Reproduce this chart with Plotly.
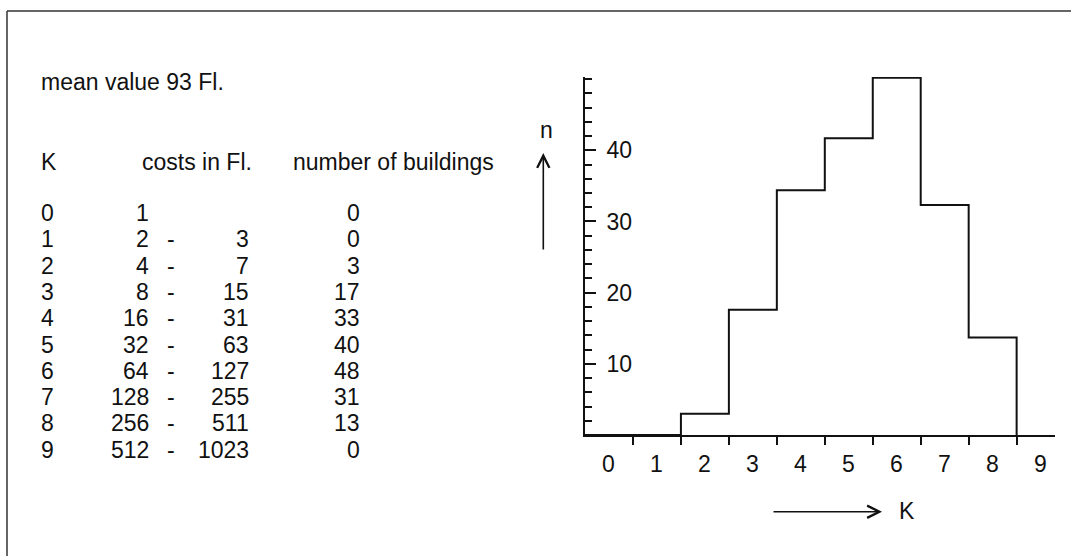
import plotly.graph_objects as go

# ---- data ----
K = list(range(10))
cost_low = [1, 2, 4, 8, 16, 32, 64, 128, 256, 512]
cost_high = [None, 3, 7, 15, 31, 63, 127, 255, 511, 1023]
buildings = [0, 0, 3, 17, 33, 40, 48, 31, 13, 0]
# step heights as drawn in the histogram
bar_heights = [0, 0, 3, 17.6, 34.4, 41.7, 50.2, 32.3, 13.7, 0]
x_tick_labels = [str(k) for k in K]
y_tick_vals = [10, 20, 30, 40]
mean_text = "mean value 93 Fl."

# ---- layout geometry (pixels) ----
W, H = 1071, 556
L, R, T, B = 585, 1055, 77, 435
FONT = "Liberation Sans, Arial, Helvetica, sans-serif"
FS = 23
INK = "#111111"


def px(x):
    return (x - L) / (R - L)


def py(y):
    return (B - y) / (B - T)


fig = go.Figure()
fig.add_trace(go.Scatter(
    x=K, y=bar_heights, mode="lines",
    line=dict(shape="hv", color=INK, width=2),
    hoverinfo="skip", showlegend=False, cliponaxis=False,
))

ann = []


def text(x, y, s, anchor="left"):
    ann.append(dict(x=px(x), y=py(y), xref="paper", yref="paper", text=s,
                    showarrow=False, xanchor=anchor, yanchor="middle",
                    font=dict(family=FONT, size=FS, color=INK)))


text(39, 82, mean_text)
text(39, 162, "K")
text(140, 162, "costs in Fl.")
text(291, 162, "number of buildings")
row0, dy = 213, 26.3
for i, k in enumerate(K):
    y = row0 + dy * i
    text(39, y, str(k))
    text(151, y, str(cost_low[i]), "right")
    if cost_high[i] is not None:
        text(171, y, "-", "center")
        text(251, y, str(cost_high[i]), "right")
    text(362, y, str(buildings[i]), "right")

# x tick labels centred under each class (placed on the x scale)
for k, lab in zip(K, x_tick_labels):
    ann.append(dict(x=k + 0.5, y=py(464), xref="x", yref="paper", text=lab,
                    showarrow=False, xanchor="center", yanchor="middle",
                    font=dict(family=FONT, size=FS, color=INK)))

# axis name labels and arrows
text(546.7, 130, "n", "center")
text(906.7, 511, "K", "center")
ann.append(dict(x=px(543.3), y=py(153), xref="paper", yref="paper",
                ax=0, ay=98, axref="pixel", ayref="pixel", text="",
                showarrow=True, arrowhead=5, arrowsize=1.5, arrowwidth=1.6,
                arrowcolor=INK, standoff=0))
ann.append(dict(x=px(882), y=py(511.7), xref="paper", yref="paper",
                ax=-110, ay=0, axref="pixel", ayref="pixel", text="",
                showarrow=True, arrowhead=5, arrowsize=1.5, arrowwidth=1.6,
                arrowcolor=INK, standoff=0))

shapes = [
    dict(type="line", xref="paper", yref="paper", x0=px(7), y0=py(11),
         x1=px(1075), y1=py(11), line=dict(color="#333", width=1.5)),
    dict(type="line", xref="paper", yref="paper", x0=px(7), y0=py(11),
         x1=px(7), y1=py(560), line=dict(color="#333", width=1.5)),
]

fig.update_layout(
    width=W, height=H,
    margin=dict(l=L, r=W - R, t=T, b=H - B, pad=0),
    paper_bgcolor="white", plot_bgcolor="white",
    font=dict(family=FONT, size=FS, color=INK),
    annotations=ann, shapes=shapes, showlegend=False,
    xaxis=dict(
        range=[0, 9.8], showgrid=False, zeroline=False,
        showline=True, linecolor=INK, linewidth=2,
        tickmode="array", tickvals=K, showticklabels=False,
        ticks="outside", ticklen=8, tickwidth=2, tickcolor=INK,
    ),
    yaxis=dict(
        range=[0, 50.3], showgrid=False, zeroline=False,
        showline=True, linecolor=INK, linewidth=2,
        tickmode="array", tickvals=y_tick_vals,
        ticks="inside", ticklen=11, tickwidth=2, tickcolor=INK,
        ticklabelposition="inside", ticklabelstandoff=12,
        tickfont=dict(family=FONT, size=FS, color=INK),
        minor=dict(tickmode="array", tickvals=list(range(2, 51, 2)),
                   ticks="inside", ticklen=6.5, tickwidth=1.5, tickcolor=INK),
    ),
)

fig.write_html(
    "out.html",
    config={"displayModeBar": False},
    post_script="document.body.style.margin='0';document.body.style.overflow='hidden';",
)
